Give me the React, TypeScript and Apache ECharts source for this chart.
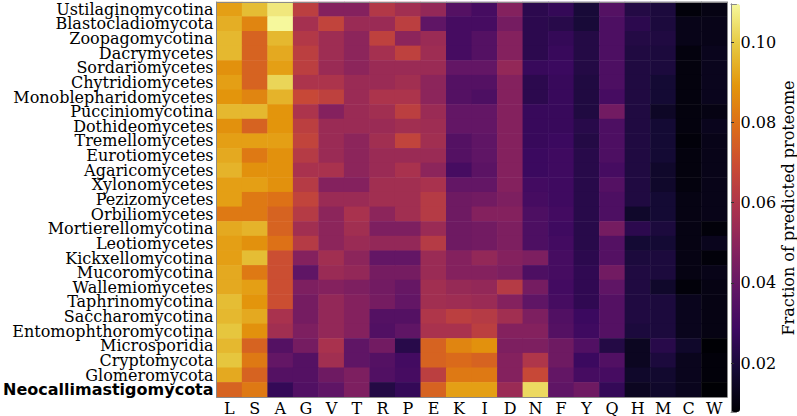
import React, { useEffect, useRef } from "react";
import * as echarts from "echarts";

const taxa = [
  "Ustilaginomycotina",
  "Blastocladiomycota",
  "Zoopagomycotina",
  "Dacrymycetes",
  "Sordariomycetes",
  "Chytridiomycetes",
  "Monoblepharidomycetes",
  "Pucciniomycotina",
  "Dothideomycetes",
  "Tremellomycetes",
  "Eurotiomycetes",
  "Agaricomycetes",
  "Xylonomycetes",
  "Pezizomycetes",
  "Orbiliomycetes",
  "Mortierellomycotina",
  "Leotiomycetes",
  "Kickxellomycotina",
  "Mucoromycotina",
  "Wallemiomycetes",
  "Taphrinomycotina",
  "Saccharomycotina",
  "Entomophthoromycotina",
  "Microsporidia",
  "Cryptomycota",
  "Glomeromycota",
  "Neocallimastigomycota",
];

const aminoAcids = ["L", "S", "A", "G", "V", "T", "R", "P", "E", "K", "I", "D", "N", "F", "Y", "Q", "H", "M", "C", "W"];

// one row per taxon, columns follow aminoAcids
const values: number[][] = [
  [0.091, 0.097, 0.106, 0.064, 0.048, 0.048, 0.061, 0.056, 0.052, 0.035, 0.031, 0.048, 0.024, 0.026, 0.019, 0.035, 0.022, 0.020, 0.009, 0.011],
  [0.094, 0.085, 0.1095, 0.057, 0.066, 0.054, 0.054, 0.064, 0.038, 0.031, 0.031, 0.044, 0.024, 0.023, 0.019, 0.033, 0.024, 0.020, 0.012, 0.012],
  [0.096, 0.076, 0.096, 0.061, 0.055, 0.050, 0.065, 0.050, 0.054, 0.031, 0.035, 0.048, 0.024, 0.026, 0.022, 0.033, 0.022, 0.021, 0.012, 0.012],
  [0.096, 0.076, 0.093, 0.064, 0.055, 0.050, 0.057, 0.065, 0.055, 0.031, 0.035, 0.048, 0.024, 0.027, 0.022, 0.033, 0.021, 0.020, 0.010, 0.013],
  [0.088, 0.076, 0.091, 0.064, 0.054, 0.050, 0.054, 0.054, 0.054, 0.039, 0.039, 0.052, 0.027, 0.028, 0.022, 0.033, 0.021, 0.020, 0.010, 0.013],
  [0.091, 0.076, 0.102, 0.059, 0.059, 0.054, 0.054, 0.056, 0.050, 0.035, 0.035, 0.048, 0.024, 0.027, 0.021, 0.033, 0.021, 0.018, 0.010, 0.013],
  [0.089, 0.085, 0.095, 0.068, 0.065, 0.054, 0.059, 0.059, 0.050, 0.035, 0.033, 0.048, 0.024, 0.027, 0.021, 0.031, 0.021, 0.018, 0.010, 0.013],
  [0.096, 0.096, 0.089, 0.059, 0.048, 0.054, 0.056, 0.064, 0.054, 0.039, 0.039, 0.048, 0.027, 0.027, 0.021, 0.043, 0.021, 0.015, 0.010, 0.011],
  [0.088, 0.076, 0.089, 0.064, 0.054, 0.054, 0.054, 0.056, 0.055, 0.039, 0.039, 0.048, 0.027, 0.027, 0.023, 0.033, 0.021, 0.018, 0.010, 0.013],
  [0.091, 0.091, 0.091, 0.066, 0.054, 0.050, 0.056, 0.066, 0.056, 0.035, 0.038, 0.048, 0.027, 0.028, 0.022, 0.033, 0.021, 0.018, 0.009, 0.012],
  [0.093, 0.082, 0.088, 0.062, 0.054, 0.050, 0.054, 0.054, 0.054, 0.035, 0.038, 0.048, 0.028, 0.029, 0.023, 0.033, 0.021, 0.018, 0.010, 0.012],
  [0.095, 0.088, 0.088, 0.058, 0.058, 0.050, 0.054, 0.058, 0.050, 0.031, 0.037, 0.048, 0.028, 0.029, 0.023, 0.031, 0.021, 0.016, 0.010, 0.012],
  [0.091, 0.091, 0.088, 0.062, 0.048, 0.048, 0.056, 0.056, 0.058, 0.039, 0.039, 0.048, 0.030, 0.029, 0.023, 0.035, 0.021, 0.016, 0.010, 0.012],
  [0.091, 0.082, 0.080, 0.066, 0.054, 0.054, 0.056, 0.056, 0.062, 0.042, 0.043, 0.046, 0.031, 0.029, 0.023, 0.033, 0.021, 0.018, 0.011, 0.012],
  [0.082, 0.082, 0.076, 0.062, 0.050, 0.058, 0.050, 0.056, 0.062, 0.042, 0.048, 0.048, 0.033, 0.030, 0.023, 0.033, 0.016, 0.018, 0.011, 0.012],
  [0.093, 0.095, 0.076, 0.056, 0.050, 0.056, 0.046, 0.046, 0.054, 0.042, 0.043, 0.046, 0.033, 0.029, 0.023, 0.044, 0.024, 0.020, 0.011, 0.009],
  [0.091, 0.088, 0.080, 0.062, 0.050, 0.054, 0.052, 0.052, 0.062, 0.042, 0.043, 0.046, 0.033, 0.030, 0.023, 0.035, 0.018, 0.018, 0.011, 0.013],
  [0.091, 0.097, 0.070, 0.048, 0.056, 0.050, 0.039, 0.039, 0.054, 0.048, 0.052, 0.048, 0.046, 0.031, 0.024, 0.035, 0.020, 0.020, 0.011, 0.009],
  [0.093, 0.082, 0.070, 0.038, 0.054, 0.052, 0.044, 0.044, 0.054, 0.048, 0.048, 0.046, 0.033, 0.031, 0.025, 0.043, 0.021, 0.020, 0.011, 0.012],
  [0.093, 0.091, 0.070, 0.046, 0.048, 0.046, 0.043, 0.040, 0.056, 0.053, 0.052, 0.062, 0.044, 0.030, 0.025, 0.038, 0.021, 0.016, 0.009, 0.011],
  [0.097, 0.089, 0.070, 0.044, 0.052, 0.048, 0.044, 0.039, 0.056, 0.055, 0.054, 0.048, 0.038, 0.031, 0.025, 0.035, 0.021, 0.020, 0.013, 0.011],
  [0.096, 0.093, 0.058, 0.044, 0.052, 0.048, 0.035, 0.035, 0.060, 0.064, 0.062, 0.056, 0.046, 0.034, 0.028, 0.035, 0.021, 0.020, 0.013, 0.011],
  [0.099, 0.088, 0.056, 0.046, 0.052, 0.048, 0.034, 0.038, 0.058, 0.058, 0.064, 0.048, 0.048, 0.035, 0.029, 0.035, 0.020, 0.020, 0.013, 0.011],
  [0.096, 0.076, 0.035, 0.044, 0.058, 0.038, 0.043, 0.023, 0.076, 0.085, 0.088, 0.046, 0.046, 0.042, 0.034, 0.022, 0.014, 0.023, 0.016, 0.008],
  [0.099, 0.082, 0.039, 0.035, 0.056, 0.038, 0.035, 0.030, 0.076, 0.078, 0.076, 0.048, 0.060, 0.042, 0.028, 0.034, 0.014, 0.020, 0.013, 0.009],
  [0.093, 0.076, 0.035, 0.035, 0.042, 0.046, 0.034, 0.031, 0.064, 0.082, 0.082, 0.048, 0.068, 0.039, 0.031, 0.031, 0.016, 0.017, 0.013, 0.009],
  [0.076, 0.082, 0.026, 0.034, 0.038, 0.046, 0.022, 0.026, 0.076, 0.091, 0.091, 0.054, 0.103, 0.038, 0.042, 0.026, 0.014, 0.016, 0.013, 0.0078],
];

const colorMin = 0.0078;
const colorMax = 0.1095;
const colorbarTicks = [0.02, 0.04, 0.06, 0.08, 0.1];
const highlightedTaxon = "Neocallimastigomycota";
const colorbarTitle = "Fraction of predicted proteome";

// inferno, slightly toned down to match the reference rendering
const inferno = ["#000004", "#140a34", "#3c0960", "#601565", "#86225e", "#ab334d", "#c94a35", "#dc6d18", "#e3960c", "#e6c840", "#f6f89c"];

const SERIF = "DejaVu Serif";
const SPINE = "#8a8a8a";

export default function App() {
  const ref = useRef<HTMLDivElement>(null);

  useEffect(() => {
    if (!ref.current) return;
    const chart = echarts.init(ref.current, undefined, { renderer: "svg" });

    const data: number[][] = [];
    values.forEach((row, yi) => row.forEach((v, xi) => data.push([xi, yi, v])));

    const spineAxis = { show: true, lineStyle: { color: SPINE, width: 1 } };

    chart.setOption({
      animation: false,
      backgroundColor: "#ffffff",
      grid: [
        { left: 211, top: 2, width: 516, height: 395 },
        { left: 731, top: 4, width: 9, height: 408 },
      ],
      xAxis: [
        {
          type: "category",
          data: aminoAcids,
          gridIndex: 0,
          position: "bottom",
          axisLine: spineAxis,
          axisTick: { show: false },
          splitLine: { show: false },
          axisLabel: { interval: 0, fontFamily: SERIF, fontSize: 16, color: "#000", margin: 3 },
          z: 10,
        },
        {
          type: "category",
          data: aminoAcids,
          gridIndex: 0,
          position: "top",
          axisLine: spineAxis,
          axisTick: { show: false },
          axisLabel: { show: false },
          z: 10,
        },
        { type: "value", gridIndex: 1, min: 0, max: 1, position: "bottom", axisLine: spineAxis, axisTick: { show: false }, axisLabel: { show: false }, splitLine: { show: false }, z: 10 },
        { type: "value", gridIndex: 1, min: 0, max: 1, position: "top", axisLine: spineAxis, axisTick: { show: false }, axisLabel: { show: false }, splitLine: { show: false }, z: 10 },
      ],
      yAxis: [
        {
          type: "category",
          data: taxa,
          gridIndex: 0,
          inverse: true,
          position: "left",
          axisLine: spineAxis,
          axisTick: { show: false },
          splitLine: { show: false },
          axisLabel: {
            interval: 0,
            fontFamily: SERIF,
            fontSize: 16,
            lineHeight: 14,
            color: "#000",
            margin: 3,
            formatter: (v: string) => (v === highlightedTaxon ? `{b|${v}}` : v),
            rich: { b: { fontFamily: "DejaVu Sans", fontWeight: "bold", fontSize: 16, lineHeight: 14, color: "#000" } },
          },
          z: 10,
        },
        {
          type: "category",
          data: taxa,
          gridIndex: 0,
          inverse: true,
          position: "right",
          axisLine: spineAxis,
          axisTick: { show: false },
          axisLabel: { show: false },
          z: 10,
        },
        {
          type: "value",
          gridIndex: 1,
          min: colorMin,
          max: colorMax,
          position: "right",
          axisLine: spineAxis,
          splitLine: { show: false },
          axisTick: { show: true, customValues: colorbarTicks, length: 3, lineStyle: { color: "#333" } },
          axisLabel: {
            customValues: colorbarTicks,
            fontFamily: SERIF,
            fontSize: 16,
            color: "#000",
            margin: 4,
            formatter: (v: number) => v.toFixed(2),
          },
          name: colorbarTitle,
          nameLocation: "middle",
          nameRotate: 90,
          nameGap: 40,
          nameTextStyle: { fontFamily: SERIF, fontSize: 16, color: "#000" },
          z: 10,
        },
        { type: "value", gridIndex: 1, min: colorMin, max: colorMax, position: "left", axisLine: spineAxis, axisTick: { show: false }, axisLabel: { show: false }, splitLine: { show: false }, z: 10 },
      ],
      visualMap: {
        type: "continuous",
        min: colorMin,
        max: colorMax,
        calculable: false,
        realtime: false,
        orient: "vertical",
        left: 731,
        top: 4,
        padding: 0,
        itemWidth: 9,
        itemHeight: 408,
        text: ["", ""],
        showLabel: false,
        seriesIndex: 0,
        inRange: { color: inferno },
      },
      series: [
        {
          type: "heatmap",
          xAxisIndex: 0,
          yAxisIndex: 0,
          data,
          itemStyle: { borderWidth: 0 },
          emphasis: { disabled: true },
        },
        {
          type: "scatter",
          xAxisIndex: 2,
          yAxisIndex: 2,
          data: [],
          silent: true,
        },
      ],
    });

    return () => chart.dispose();
  }, []);

  return <div ref={ref} style={{ position: "absolute", left: 0, top: 0, width: 797, height: 416 }} />;
}
